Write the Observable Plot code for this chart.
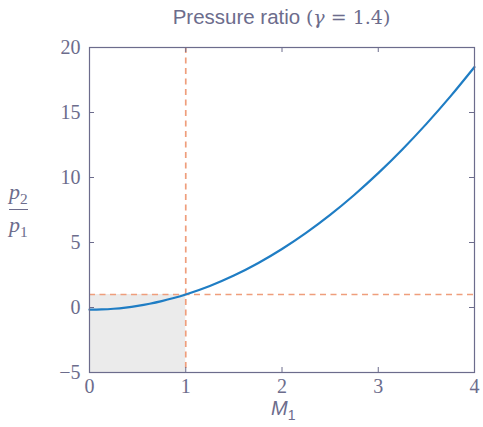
<!DOCTYPE html>
<html>
<head>
<meta charset="utf-8">
<script src="https://cdn.jsdelivr.net/npm/d3@7"></script>
<script src="https://cdn.jsdelivr.net/npm/@observablehq/plot@0.6"></script>
<style>
  html, body { margin: 0; padding: 0; background: #fff; }
  #wrap { position: relative; width: 483px; height: 427px; }
  .lbl { position: absolute; color: #6c6c8c; white-space: nowrap; }
  #title { left: 0; width: 563px; top: 5px; text-align: center; font: 300 20.5px "Liberation Sans", "Open Sans", sans-serif; }
  #title .m { font-family: "DejaVu Serif", "Liberation Serif", serif; font-size: 19px; }
  #ylab { left: 9px; top: 179px; font: italic 22px "Liberation Serif", serif; text-align: center; }
  #ylab .bar { border-top: 1.5px solid #6c6c8c; margin: 1px 0 2px 0; }
  #xlab { left: 271px; top: 397px; font: italic 20px "Liberation Sans", sans-serif; }
  sub { font-size: 0.7em; font-style: normal; }
</style>
</head>
<body>
<div id="wrap"></div>
<script>
// Mach number samples and read-off pressure ratio values
const machNumbers = [0, 0.125, 0.25, 0.375, 0.5, 0.625, 0.75, 0.875, 1, 1.25, 1.5, 1.75, 2, 2.25, 2.5, 2.75, 3, 3.25, 3.5, 3.75, 4];
const pressureRatios = [-0.167, -0.148, -0.094, -0.003, 0.125, 0.289, 0.490, 0.727, 1.0, 1.656, 2.458, 3.406, 4.5, 5.740, 7.125, 8.656, 10.333, 12.156, 14.125, 16.240, 18.5];
const xTicks = [0, 1, 2, 3, 4];
const yTicks = [-5, 0, 5, 10, 15, 20];
const xDomain = [0, 4];
const yDomain = [-5, 20];
// Subsonic (unphysical) region and sonic reference lines
const regionM = [0, 1];
const regionP = [-5, 1];
const sonicM = [1];
const sonicP = [1];

const axisColor = "#6c6c8c";
const data = machNumbers.map((m, i) => ({M: m, p: pressureRatios[i]}));

const chart = Plot.plot({
  width: 483,
  height: 427,
  marginLeft: 89,
  marginRight: 9,
  marginTop: 47,
  marginBottom: 55,
  style: {fontFamily: "'Liberation Serif', 'DejaVu Serif', serif", fontSize: "18px", color: axisColor, background: "white"},
  x: {domain: xDomain},
  y: {domain: yDomain},
  marks: [
    Plot.rect([{x1: regionM[0], x2: regionM[1], y1: regionP[0], y2: regionP[1]}], {x1: "x1", x2: "x2", y1: "y1", y2: "y2", fill: "#ebebeb"}),
    Plot.ruleX(sonicM, {stroke: "#ef9e7c", strokeWidth: 1.7, strokeDasharray: "6,4.5"}),
    Plot.ruleY(sonicP, {x1: xDomain[0], x2: xDomain[1], stroke: "#ef9e7c", strokeWidth: 1.7, strokeDasharray: "6,4.5"}),
    Plot.line(data, {x: "M", y: "p", stroke: "#1f7dc4", strokeWidth: 2.2, curve: "catmull-rom"}),
    Plot.frame({stroke: axisColor, strokeWidth: 1.2}),
    Plot.ruleX(xTicks, {y1: yDomain[0], y2: yDomain[0], insetTop: -5, stroke: axisColor}),
    Plot.ruleX(xTicks, {y1: yDomain[1], y2: yDomain[1], insetBottom: -5, stroke: axisColor}),
    Plot.ruleY(yTicks, {x1: xDomain[0], x2: xDomain[0], insetRight: -5, stroke: axisColor}),
    Plot.ruleY(yTicks, {x1: xDomain[1], x2: xDomain[1], insetLeft: -5, stroke: axisColor}),
    Plot.axisX(xTicks, {tickSize: 0, tickPadding: 6, tickFormat: d => String(d).replace("-", "\u2212"), label: null, fontSize: 20}),
    Plot.axisY(yTicks, {tickSize: 0, tickPadding: 9, tickFormat: d => String(d).replace("-", "\u2212"), label: null, fontSize: 20})
  ]
});

const wrap = document.getElementById("wrap");
wrap.appendChild(chart);
wrap.insertAdjacentHTML("beforeend",
  '<div id="title" class="lbl">Pressure ratio <span class="m">(<i>γ</i> = 1.4)</span></div>' +
  '<div id="ylab" class="lbl"><div><i>p</i><sub>2</sub></div><div class="bar"></div><div><i>p</i><sub>1</sub></div></div>' +
  '<div id="xlab" class="lbl"><i>M</i><sub>1</sub></div>');
</script>
</body>
</html>
